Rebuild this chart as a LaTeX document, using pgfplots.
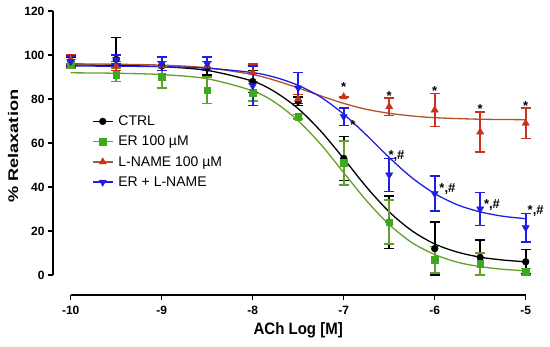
\documentclass[border=0pt]{standalone}
\usepackage{fontspec}
\setmainfont{Liberation Sans}
\usepackage{pgfplots}
\pgfplotsset{compat=1.18}
\definecolor{cgreen}{RGB}{60,170,30}
\definecolor{cgreenl}{RGB}{100,160,40}
\definecolor{cred}{RGB}{200,50,30}
\definecolor{credl}{RGB}{175,85,40}
\definecolor{cblue}{RGB}{30,30,230}
\begin{document}
\begin{tikzpicture}
\begin{axis}[
  scale only axis, width=497pt, height=295pt,
  xmin=-10.195, xmax=-4.733, ymin=-9.1, ymax=125,
  axis lines=left, axis line style={draw=none,-},
  clip=false,
  xtick={-10,-9,-8,-7,-6,-5}, xticklabels={-10,-9,-8,-7,-6,-5},
  ytick={0,20,40,60,80,100,120},
  /pgf/number format/assume math mode=true,
  tick style={black, line width=1.3pt}, tick align=outside, major tick length=5pt,
  ticklabel style={font=\bfseries\fontsize{12}{14}\selectfont},
  xticklabel style={yshift=-3pt},
  legend cell align=left,
  legend style={at={(axis cs:-9.8,74.3)}, anchor=north west, draw=none, fill=none,
    font=\fontsize{14}{16}\selectfont, row sep=5pt, column sep=3pt},
]
% axis lines
\draw[line width=1.5pt] (axis cs:-10.195,0) -- (axis cs:-10.195,120);
\draw[line width=1.5pt] (axis cs:-10,-9.1) -- (axis cs:-5,-9.1);
\path (axis cs:-10.777,-32.3) rectangle (axis cs:-4.733,125);
% fitted curves
\addplot[black, line width=1.3pt, smooth, forget plot] coordinates {(-10,95.5)(-9.5,95.25)(-9,94.7)(-8.5,93.0)(-8,88.1)(-7.75,83.1)(-7.5,75.6)(-7.25,65.3)(-7,52.9)(-6.75,40.0)(-6.5,28.7)(-6.25,20.1)(-6,14.1)(-5.75,10.4)(-5.5,8.1)(-5.25,6.8)(-5,6.0)};
\addplot[cgreenl, line width=1.3pt, smooth, forget plot] coordinates {(-10,91.9)(-9.5,91.7)(-9,91.1)(-8.5,89.2)(-8,83.7)(-7.75,78.3)(-7.5,70.1)(-7.25,59.3)(-7,46.5)(-6.75,33.8)(-6.5,22.9)(-6.25,14.7)(-6,9.3)(-5.75,5.8)(-5.5,3.8)(-5.25,2.6)(-5,1.9)};
\addplot[credl, line width=1.3pt, smooth, forget plot] coordinates {(-10,96)(-9.5,95.8)(-9,95.4)(-8.5,94.2)(-8,91.1)(-7.75,88.4)(-7.5,85.0)(-7.25,81.4)(-7,78.0)(-6.75,75.3)(-6.5,73.5)(-6.25,72.3)(-6,71.5)(-5.5,70.8)(-5,70.6)};
\addplot[cblue, line width=1.3pt, smooth, forget plot] coordinates {(-10,95)(-9.5,94.9)(-9,94.7)(-8.5,94.0)(-8,92.0)(-7.75,89.8)(-7.5,86.2)(-7.25,80.8)(-7,73.1)(-6.75,63.6)(-6.5,53.4)(-6.25,44.2)(-6,37.0)(-5.75,31.9)(-5.5,28.7)(-5.25,26.7)(-5,25.6)};
% data
\addplot[only marks, mark=*, mark size=3.4pt, black,
  legend image code/.code={\draw[black,line width=1.3pt] (0pt,0pt)--(20pt,0pt); \draw[black] plot[mark=*,mark size=3.4pt] coordinates {(10pt,0pt)};},
  error bars/.cd, y dir=both, y explicit, error bar style={line width=1.6pt},
  error mark options={rotate=90, mark size=5pt, line width=1.6pt}]
  table[x=x, y=y, y error=e] {
x y e
-10 97 2
-9.5 98 10
-9 95 2
-8.5 94 3
-8 88 5
-7.5 79 2
-7 53 10
-6.5 24 12
-6 12 12
-5.5 8 8
-5 6 5.5
};
\addlegendentry{CTRL}
\addplot[only marks, mark=square*, mark size=3.4pt, cgreen,
  legend image code/.code={\draw[cgreenl,line width=1.3pt] (0pt,0pt)--(20pt,0pt); \draw[cgreen] plot[mark=square*,mark size=3.4pt] coordinates {(10pt,0pt)};},
  error bars/.cd, y dir=both, y explicit, error bar style={line width=1.6pt, cgreenl},
  error mark options={rotate=90, mark size=5pt, line width=1.6pt, cgreenl}]
  table[x=x, y=y, y error=e] {
x y e
-10 96 2
-9.5 91 3
-9 90 5
-8.5 84 6
-8 83 4
-7.5 72 1
-7 51 10
-6.5 24 10
-6 7 6
-5.5 5 5
-5 1.5 1.5
};
\addlegendentry{ER 100 µM}
\addplot[only marks, mark=triangle*, mark size=4.2pt, cred,
  legend image code/.code={\draw[credl,line width=1.3pt] (0pt,0pt)--(20pt,0pt); \draw[cred] plot[mark=triangle*,mark size=4.2pt] coordinates {(10pt,0pt)};},
  error bars/.cd, y dir=both, y explicit, error bar style={line width=1.6pt, cred},
  error mark options={rotate=90, mark size=5pt, line width=1.6pt, cred}]
  table[x=x, y=y, y error=e] {
x y e
-10 98 2
-9.5 95 2
-9 95 2
-8.5 95 2
-8 92 4
-7.5 80 2
-7 81 0
-6.5 76.5 4
-6 75 7.5
-5.5 65 9
-5 69 7
};
\addlegendentry{L-NAME 100 µM}
\addplot[only marks, mark=triangle*, mark size=4.2pt, mark options={rotate=180}, cblue,
  legend image code/.code={\draw[cblue,line width=1.3pt] (0pt,0pt)--(20pt,0pt); \draw[cblue] plot[mark=triangle*,mark size=4.2pt,mark options={rotate=180}] coordinates {(10pt,0pt)};},
  error bars/.cd, y dir=both, y explicit, error bar style={line width=1.6pt, cblue},
  error mark options={rotate=90, mark size=5pt, line width=1.6pt, cblue}]
  table[x=x, y=y, y error=e] {
x y e
-10 97 2.5
-9.5 98 2
-9 96 3
-8.5 96 3
-8 86 9
-7.5 85 7
-7 72 4
-6.5 45.5 7.5
-6 37 8
-5.5 30 7.5
-5 21.5 6.5
};
\addlegendentry{ER + L-NAME}
% annotations
\begin{scope}[every node/.style={font=\bfseries\fontsize{13}{15}\selectfont, inner sep=0pt}]
\node[anchor=center] at (axis cs:-7,85.6) {*};
\node[anchor=center] at (axis cs:-6.5,81.3) {*};
\node[anchor=center] at (axis cs:-6,83.6) {*};
\node[anchor=center] at (axis cs:-5.5,75.6) {*};
\node[anchor=center] at (axis cs:-5,76.6) {*};
\node[anchor=west] at (axis cs:-6.93,68.1) {*};
\node[anchor=center] at (axis cs:-6.42,54) {*,\#};
\node[anchor=west] at (axis cs:-5.95,39) {*,\#};
\node[anchor=west] at (axis cs:-5.46,32) {*,\#};
\node[anchor=west] at (axis cs:-4.98,29) {*,\#};
\end{scope}
\node[rotate=90, xscale=1.3, font=\bfseries\fontsize{14}{16}\selectfont] at (axis cs:-10.634,58.5) {\% Relaxation};
\node[yscale=1.1, font=\bfseries\fontsize{15}{17}\selectfont] at (axis cs:-7.5,-25) {ACh Log [M]};
\end{axis}
\end{tikzpicture}
\end{document}
